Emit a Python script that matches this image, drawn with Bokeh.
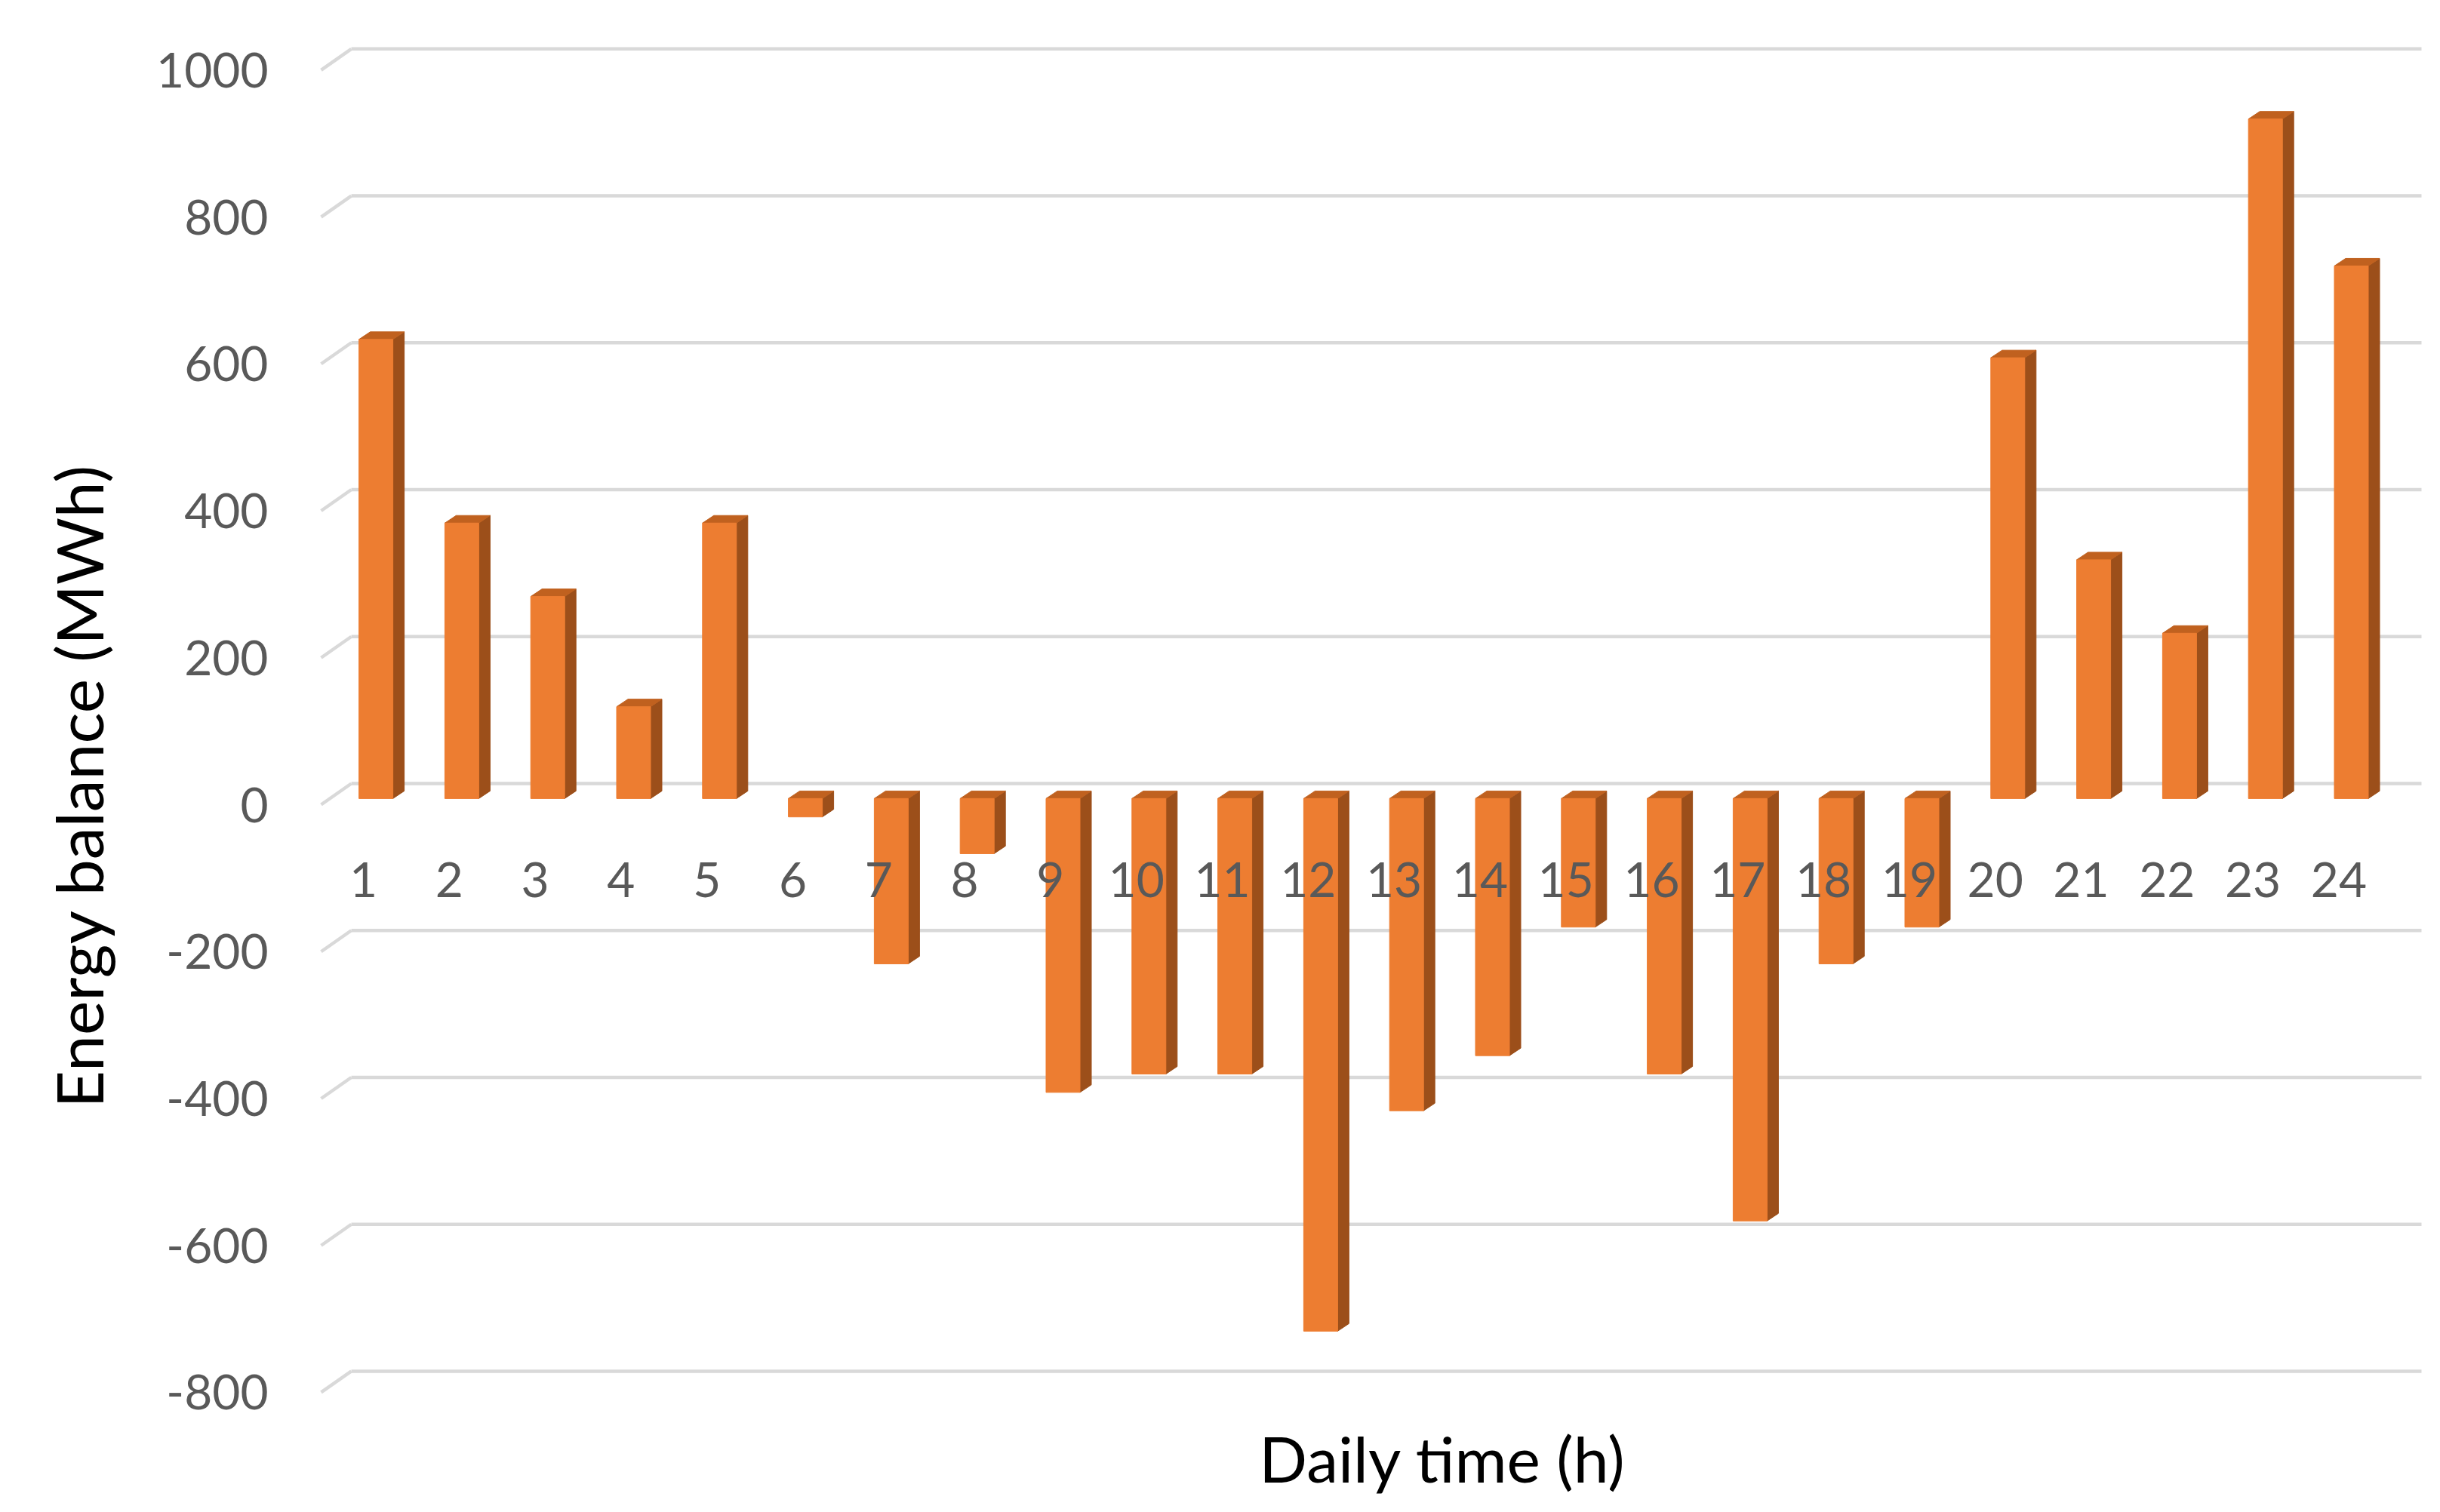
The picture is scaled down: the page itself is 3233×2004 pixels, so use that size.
from bokeh.plotting import figure
from bokeh.models import ColumnDataSource, Range1d, FixedTicker, Label, Title, NumeralTickFormatter
from bokeh.core.properties import value
from bokeh.embed import file_html
from bokeh.resources import INLINE

# ---------------- data ----------------
hours = list(range(1, 25))
hour_labels = [str(h) for h in hours]
energy_balance = [625, 375, 275, 125, 375, -25, -225, -75, -400, -375, -375, -725,
                  -425, -350, -175, -375, -575, -225, -175, 600, 325, 225, 925, 725]
y_ticks = [-800, -600, -400, -200, 0, 200, 400, 600, 800, 1000]
x_title = "Daily time (h)"
y_title = "Energy balance (MWh)"

# ---------------- layout (pixels) ----------------
W, H = 3217, 1988
LEFT = 380
PX_PER_CAT = 113.8
PX_PER_UNIT = 0.9737
X0_PX = 486     # canvas x of category slot 1 (front plane)
Y0_PX = 1066    # canvas y of value 0 (front plane)


def x_of(px):
    return 1 + (px - X0_PX) / PX_PER_CAT


def y_of(py):
    return (Y0_PX - py) / PX_PER_UNIT


# 3D depth (front plane -> back wall)
DX = 40 / PX_PER_CAT
DY = 28 / PX_PER_UNIT
FX, FY = 0.29 * DX, 0.29 * DY               # bar front face offset
HW = 22.5 / PX_PER_CAT                       # half width of front face
SX, SY = 15 / PX_PER_CAT, 10 / PX_PER_UNIT   # bar depth
GX0 = x_of(425)
GX1 = x_of(3208)

FONT = "Lato"
TICK_COLOR = "#595959"
GRID_COLOR = "#D9D9D9"
FRONT = "#ED7D31"
TOP = "#C0611F"
SIDE = "#9C4F1A"

p = figure(width=W, height=H, output_backend="svg", toolbar_location=None,
           x_range=Range1d(x_of(LEFT), x_of(W)), y_range=Range1d(y_of(H), y_of(0)),
           min_border_left=LEFT, min_border_right=0, min_border_top=0, min_border_bottom=0)
p.outline_line_color = None
p.grid.visible = False
p.xaxis.visible = False
p.background_fill_color = "white"
p.border_fill_color = "white"

ya = p.yaxis[0]
ya.ticker = FixedTicker(ticks=y_ticks)
ya.formatter = NumeralTickFormatter(format="0")
ya.axis_line_color = None
ya.major_tick_line_color = None
ya.minor_tick_line_color = None
ya.major_tick_out = 0
ya.major_tick_in = 0
ya.major_label_standoff = 25
ya.major_label_text_font = FONT
ya.major_label_text_font_size = "64px"
ya.major_label_text_color = TICK_COLOR

# y title placed to the left of the axis
p.add_layout(Title(text=y_title, align="left", offset=520, vertical_align="middle",
                   standoff=98, text_font=FONT, text_font_size="86px",
                   text_font_style="normal", text_color="black"), "left")

# ---------------- gridlines on back wall + side wall ----------------
g = ColumnDataSource(dict(
    x0=[GX0] * len(y_ticks), y0=y_ticks,
    xb=[GX0 + DX] * len(y_ticks), yb=[t + DY for t in y_ticks],
    x1=[GX1] * len(y_ticks),
))
p.segment(x0="x0", y0="y0", x1="xb", y1="yb", source=g, line_color=GRID_COLOR, line_width=4.5)
p.segment(x0="xb", y0="yb", x1="x1", y1="yb", source=g, line_color=GRID_COLOR, line_width=4.5)

# ---------------- bars ----------------
left, right, bottom, top = [], [], [], []
side_xs, side_ys, top_xs, top_ys = [], [], [], []
for h, v in zip(hours, energy_balance):
    L = h + FX - HW
    R = h + FX + HW
    b = min(0, v) + FY
    t = max(0, v) + FY
    left.append(L); right.append(R); bottom.append(b); top.append(t)
    side_xs.append([R, R + SX, R + SX, R])
    side_ys.append([b, b + SY, t + SY, t])
    top_xs.append([L, L + SX, R + SX, R])
    top_ys.append([t, t + SY, t + SY, t])

p.patches(xs=side_xs, ys=side_ys, fill_color=SIDE, line_color=SIDE, line_width=1)
p.patches(xs=top_xs, ys=top_ys, fill_color=TOP, line_color=TOP, line_width=1)
p.quad(left=left, right=right, bottom=bottom, top=top,
       fill_color=FRONT, line_color=FRONT, line_width=1)

# ---------------- category labels ----------------
lab = ColumnDataSource(dict(x=[h - 0.044 for h in hours],
                            y=[y_of(1165)] * len(hours), text=hour_labels))
p.text(x="x", y="y", text="text", source=lab, text_font=value(FONT),
       text_font_size="64px", text_color=TICK_COLOR,
       text_align="center", text_baseline="middle")

# ---------------- x title ----------------
p.add_layout(Label(x=x_of(1911), y=y_of(1932), text=x_title, text_font=FONT,
                   text_font_size="84px", text_color="black",
                   text_align="center", text_baseline="middle"))

open("out.html", "w").write(file_html(p, INLINE))
